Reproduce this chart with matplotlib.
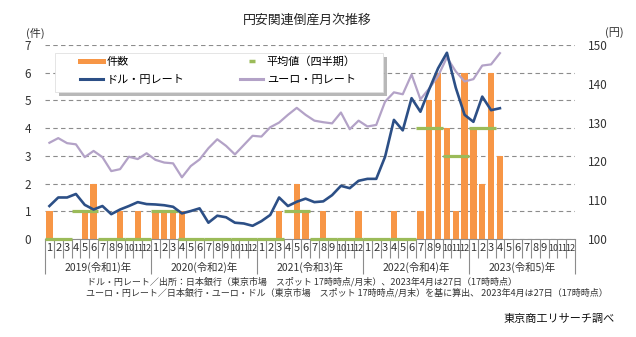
import numpy as np
import matplotlib
matplotlib.use("Agg")
import matplotlib.pyplot as plt
from matplotlib.lines import Line2D
from matplotlib.patches import Rectangle
import matplotlib.patheffects as pe

plt.rcParams['font.family'] = ['Noto Sans CJK JP', 'DejaVu Sans']

# 2019/1 - 2023/12 (60 months), data through 2023/4
years = ['2019(令和1)年', '2020(令和2)年', '2021(令和3)年', '2022(令和4)年', '2023(令和5)年']
month_labels = [str(m) for m in range(1, 13)] * 5

counts = [1, 0, 0, 0, 1, 2, 0, 0, 1, 0, 1, 0,
          1, 1, 1, 1, 0, 0, 0, 0, 0, 0, 0, 0,
          0, 0, 1, 0, 2, 1, 0, 1, 0, 0, 0, 1,
          0, 0, 0, 1, 0, 0, 1, 5, 6, 4, 1, 6,
          4, 2, 6, 3]

# quarterly average (as plotted)
quarter_avg = [0, 1, 0, 0,
               1, 0, 0, 0,
               0, 1, 0, 0,
               0, 0, 4, 3,
               4]

usd_jpy = [108.5, 110.7, 110.7, 111.6, 108.8, 107.6, 108.5, 106.4, 107.6, 108.5, 109.5, 109.0,
           108.9, 108.7, 108.3, 106.6, 107.2, 107.9, 104.2, 106.0, 105.6, 104.2, 104.0, 103.4,
           104.6, 106.2, 110.7, 108.5, 109.6, 110.4, 109.5, 109.7, 111.3, 113.7, 113.1, 115.0,
           115.5, 115.5, 121.2, 130.7, 128.0, 136.3, 132.8, 138.6, 144.0, 148.0, 139.0, 132.0,
           130.2, 136.7, 133.2, 133.7]

eur_jpy = [124.8, 126.0, 124.7, 124.4, 121.1, 122.7, 121.1, 117.5, 118.0, 121.2, 120.6, 122.1,
           120.4, 119.7, 119.5, 115.9, 118.8, 120.5, 123.4, 125.7, 124.0, 121.8, 124.2, 126.6,
           126.4, 128.8, 130.0, 132.0, 133.8, 132.0, 130.5, 130.1, 129.8, 132.6, 128.3, 130.5,
           129.0, 129.4, 135.4, 137.8, 137.3, 142.4, 136.0, 138.8, 142.0, 146.8, 143.2, 140.6,
           141.2, 144.7, 145.0, 147.9]

c_bar = '#F79646'
c_avg = '#9BBB59'
c_usd = '#2C4F86'
c_eur = '#B3A2C7'
c_grid = '#8C8C8C'

fig = plt.figure(figsize=(6.36, 3.37), dpi=100)
ax = fig.add_axes([45 / 636, 98 / 337, 530 / 636, 194 / 337])

n = len(month_labels)
x = np.arange(n)

ax.bar(x[:len(counts)], counts, width=0.7, color=c_bar, zorder=2)
q_start = np.arange(len(quarter_avg)) * 3 - 0.5
ax.hlines(quarter_avg, q_start, q_start + 3, colors=c_avg, lw=2.3, zorder=3, clip_on=False)

ax.set_xlim(-0.5, n - 0.5)
ax.set_ylim(0, 7)
ax.set_yticks(range(8))
ax.tick_params(axis='y', length=0, pad=10, labelsize=8.5, colors='#333333')
ax.yaxis.grid(True, linestyle=(0, (4, 3)), color=c_grid, lw=0.8)
ax.set_axisbelow(True)
for s in ['left', 'right', 'top']:
    ax.spines[s].set_visible(False)
ax.spines['bottom'].set_color(c_grid)
ax.spines['bottom'].set_linewidth(0.8)

# month boxes and year separators
ax.set_xticks(np.arange(0, n + 1, 12) - 0.5)
ax.set_xticklabels([])
ax.set_xticks(np.arange(0, n + 1) - 0.5, minor=True)
ax.tick_params(axis='x', which='major', length=25, width=0.8, color=c_grid)
ax.tick_params(axis='x', which='minor', length=13.5, width=0.8, color=c_grid)
tr = ax.get_xaxis_transform()
for i, lab in enumerate(month_labels):
    ax.text(i, -0.047, lab, transform=tr, ha='center', va='center',
            fontsize=8 if len(lab) == 1 else 6.5, color='#333333')
for k, y in enumerate(years):
    ax.text(12 * k + 5.5, -0.145, y, transform=tr, ha='center', va='center', fontsize=7.5, color='#333333')

ax2 = ax.twinx()
ax2.plot(x[:len(eur_jpy)], eur_jpy, color=c_eur, lw=1.6, zorder=3)
ax2.plot(x[:len(usd_jpy)], usd_jpy, color=c_usd, lw=1.9, zorder=4)
ax2.set_ylim(100, 150)
ax2.set_yticks(range(100, 151, 10))
ax2.tick_params(axis='y', length=0, pad=9, labelsize=8.5, colors='#333333')
for s in ax2.spines.values():
    s.set_visible(False)

# legend box with shadow
box = Rectangle((55 / 636, 1 - 92 / 337), 328 / 636, 39 / 337, transform=fig.transFigure,
                facecolor='white', edgecolor='#E0E0E0', lw=0.6, zorder=6,
                path_effects=[pe.withSimplePatchShadow(offset=(3, -3), shadow_rgbFace='#9A9A9A', alpha=0.7)])
ax2.add_artist(box)
handles = [Line2D([], [], color=c_bar, lw=3.6),
           Line2D([], [], color=c_usd, lw=2.2),
           Line2D([], [], color=c_avg, marker='_', ms=5, mew=2.5, ls='none'),
           Line2D([], [], color=c_eur, lw=2.2)]
labels = ['件数', 'ドル・円レート', '平均値（四半期）', 'ユーロ・円レート']
leg = ax2.legend(handles, labels, ncol=2, loc='upper left', bbox_to_anchor=(80 / 636, 1 - 56 / 337),
                 bbox_transform=fig.transFigure, frameon=False, borderpad=0, borderaxespad=0,
                 handlelength=2.1, handletextpad=0.3, columnspacing=5.0, labelspacing=0.75,
                 fontsize=8)
leg.set_zorder(7)

fig.text(0.4835, 1 - 20 / 337, '円安関連倒産月次推移', ha='center', va='center', fontsize=9.3, color='#222222')
fig.text(35 / 636, 1 - 33 / 337, '(件)', ha='center', va='center', fontsize=8, color='#333333')
fig.text(614 / 636, 1 - 33 / 337, '(円)', ha='center', va='center', fontsize=8, color='#333333')

notes = ['ドル・円レート／出所：日本銀行（東京市場　スポット 17時時点/月末）、2023年4月は27日（17時時点）',
         'ユーロ・円レート／日本銀行・ユーロ・ドル（東京市場　スポット 17時時点/月末）を基に算出、 2023年4月は27日（17時時点）']
fig.text(87 / 636, 1 - 282 / 337, notes[0], ha='left', va='center', fontsize=6.5, color='#333333')
fig.text(86 / 636, 1 - 293 / 337, notes[1], ha='left', va='center', fontsize=6.5, color='#333333')
fig.text(615 / 636, 1 - 319 / 337, '東京商工リサーチ調べ', ha='right', va='center', fontsize=8, color='#111111')

fig.savefig('out.png', dpi=100)
